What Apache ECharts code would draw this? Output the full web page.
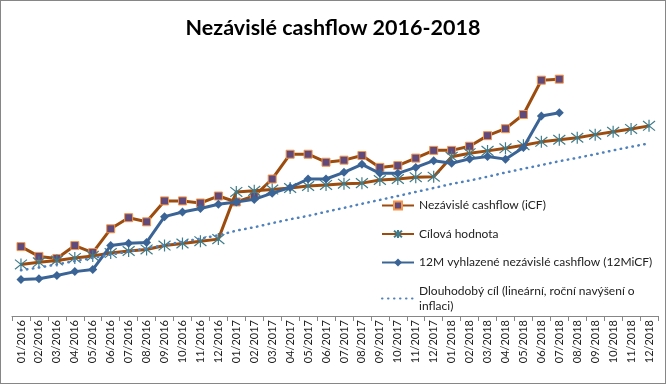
<!DOCTYPE html>
<html>
<head>
<meta charset="utf-8">
<script src="https://cdn.jsdelivr.net/npm/echarts@6/dist/echarts.min.js"></script>
<style>
  html, body { margin: 0; padding: 0; background: #fff; }
  #chart { width: 666px; height: 384px; box-sizing: border-box; border: 1px solid #868686; }
</style>
</head>
<body>
<div id="chart"></div>
<script>
const categories = [
  '01/2016','02/2016','03/2016','04/2016','05/2016','06/2016','07/2016','08/2016','09/2016','10/2016','11/2016','12/2016',
  '01/2017','02/2017','03/2017','04/2017','05/2017','06/2017','07/2017','08/2017','09/2017','10/2017','11/2017','12/2017',
  '01/2018','02/2018','03/2018','04/2018','05/2018','06/2018','07/2018','08/2018','09/2018','10/2018','11/2018','12/2018'
];
const seriesNames = [
  'Nezávislé cashflow (iCF)',
  'Cílová hodnota',
  '12M vyhlazené nezávislé cashflow (12MiCF)',
  'Dlouhodobý cíl (lineární, roční navýšení o inflaci)'
];
const iCF = [26.9,23.1,22.3,27.3,24.6,33.8,38.1,36.5,44.6,44.6,43.8,46.5,
  44.2,46.5,53.1,62.7,62.7,59.6,60.4,62.2,57.6,58.3,61.2,64.2,
  64.2,65.8,69.9,72.6,78.1,91.4,91.8,null,null,null,null,null];
const target = [20.0,20.8,21.5,22.5,23.3,24.4,25.2,25.8,27.3,28.1,29.0,29.8,
  48.1,48.5,49.0,49.6,50.4,50.8,51.3,51.5,52.7,53.1,53.8,54.0,
  61.7,63.1,64.0,65.0,66.2,67.5,68.3,69.1,70.3,71.4,72.5,73.7];
const iCF12M = [14.1,14.4,15.7,17.2,18.0,27.3,28.2,28.5,38.5,40.3,41.7,43.3,
  44.2,45.2,47.6,49.8,53.1,53.1,55.7,58.8,55.3,55.3,57.6,60.2,
  59.2,60.9,61.8,60.8,65.3,77.5,78.8,null,null,null,null,null];
const longTerm = [17.7,18.8,20.0,21.3,22.5,23.8,25.0,26.2,27.5,28.8,30.0,31.3,
  33.1,34.4,36.0,37.5,38.8,40.4,41.9,43.5,45.0,46.5,48.1,49.6,
  51.2,52.5,54.0,55.6,57.1,58.5,60.0,61.3,62.7,64.2,65.6,66.9];

const FONT = 'Lato, "Open Sans", sans-serif';
const chart = echarts.init(document.getElementById('chart'), null, { renderer: 'canvas' });
chart.setOption({
  animation: false,
  backgroundColor: '#fff',
  title: {
    text: 'Nezávislé cashflow 2016-2018',
    left: 'center',
    top: 11,
    textStyle: { fontFamily: FONT, fontSize: 21.5, fontWeight: 'bold', color: '#000' }
  },
  legend: {
    orient: 'vertical',
    left: 375,
    top: 192,
    itemWidth: 32,
    itemHeight: 10,
    itemGap: 13.5,
    data: [
      { name: seriesNames[0] },
      { name: seriesNames[1] },
      { name: seriesNames[2] },
      { name: seriesNames[3], itemStyle: { opacity: 0 } }
    ],
    formatter: name => name.replace(' o inflaci)', ' o\ninflaci)'),
    textStyle: { fontFamily: FONT, fontSize: 12, color: '#222', lineHeight: 15 }
  },
  grid: { left: 11, right: 7, top: 57, bottom: 67 },
  xAxis: {
    type: 'category',
    data: categories,
    boundaryGap: true,
    axisLine: { lineStyle: { color: '#868686', width: 1 } },
    axisTick: { show: true, inside: false, length: 5, lineStyle: { color: '#868686' } },
    axisLabel: { rotate: 90, interval: 0, margin: 4, fontFamily: FONT, fontSize: 11, color: '#222' }
  },
  yAxis: {
    type: 'value', min: 0, max: 100, show: false,
    splitLine: { show: false }
  },
  series: [
    {
      name: seriesNames[0], type: 'line', data: iCF, z: 2,
      symbol: 'rect', symbolSize: 8,
      itemStyle: { color: '#604A7B', borderColor: '#F79646', borderWidth: 1 },
      lineStyle: { color: '#9C4C0E', width: 3 }
    },
    {
      name: seriesNames[1], type: 'line', data: target, z: 3,
      symbol: 'path://M0,1L10,9M10,1L0,9M5,0L5,10', symbolSize: 12,
      itemStyle: { color: 'rgba(0,0,0,0)', borderColor: '#3E7C8C', borderWidth: 1.2 },
      lineStyle: { color: '#9C4C0E', width: 3 }
    },
    {
      name: seriesNames[2], type: 'line', data: iCF12M, z: 4,
      symbol: 'diamond', symbolSize: 9,
      itemStyle: { color: '#3B6496' },
      lineStyle: { color: '#3B6496', width: 3 }
    },
    {
      name: seriesNames[3], type: 'line', data: longTerm, z: 5,
      symbol: 'none', showSymbol: false,
      itemStyle: { color: '#4F81BD' },
      lineStyle: { color: '#4F81BD', width: 2.5, type: [0.5, 5.5], cap: 'round' }
    }
  ]
});
</script>
</body>
</html>
